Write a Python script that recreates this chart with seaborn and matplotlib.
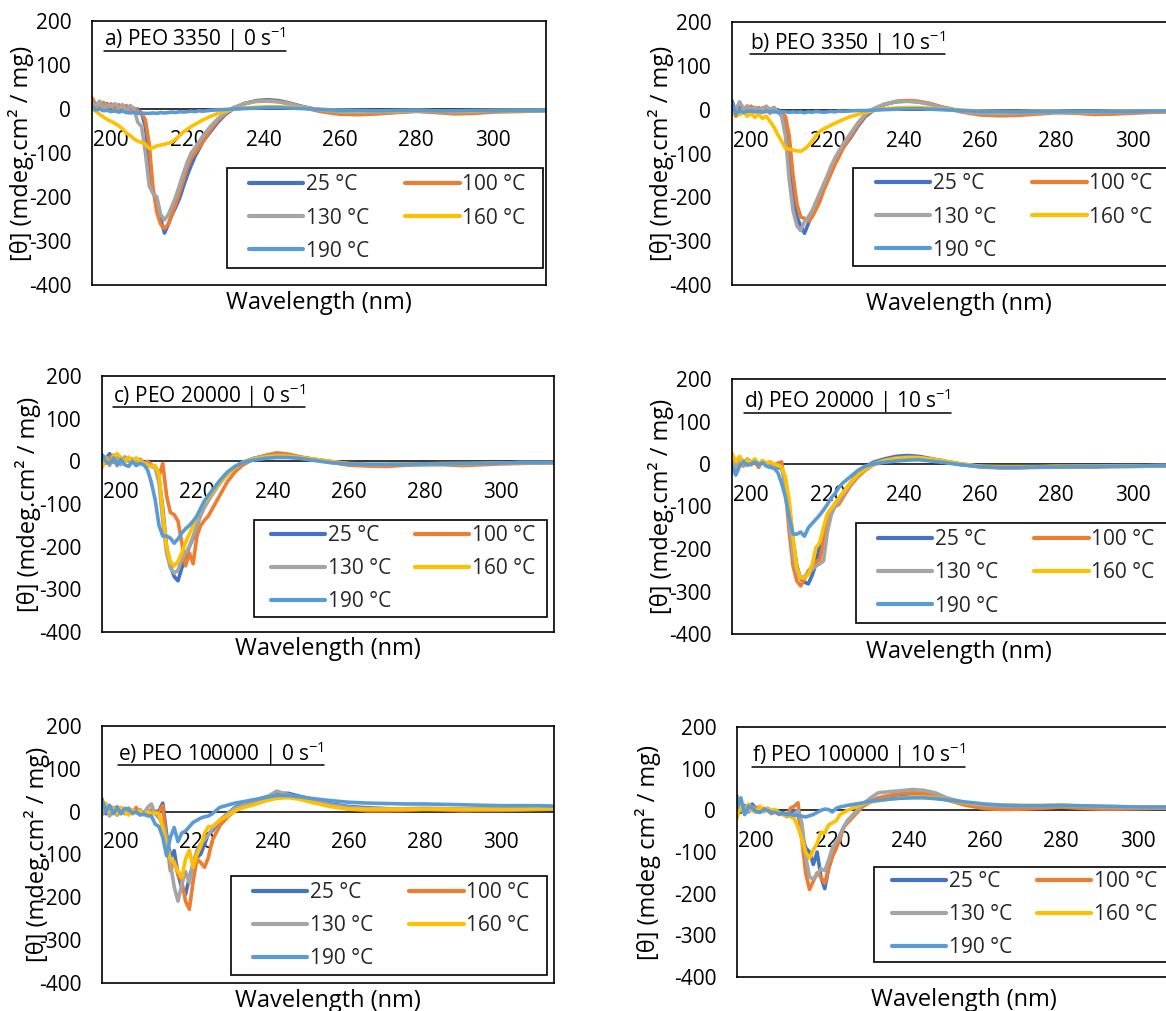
import matplotlib
matplotlib.use("Agg")
import matplotlib.pyplot as plt
import pandas as pd
import seaborn as sns
from matplotlib.lines import Line2D
from matplotlib.patches import Rectangle

# ---------------------------------------------------------------- data
# Wavelength grid (nm) shared by every spectrum
WAVELENGTH = (list(range(195, 225))
              + [226, 228, 230, 232, 235, 238, 241, 244, 247, 250]
              + [255, 260, 265, 270, 275, 280, 285, 290, 295, 300, 305, 310, 314])

TEMPS = ["25 °C", "100 °C", "130 °C", "160 °C", "190 °C"]
COLORS = ["#4472C4", "#ED7D31", "#A5A5A5", "#FFC000", "#5B9BD5"]
X_TICKS = [200, 220, 240, 260, 280, 300]
Y_TICKS = [-400, -300, -200, -100, 0, 100, 200]

# a) PEO 3350, 0 s-1
a_25 = [20, 8, 15, 5, 12, 2, 8, 0, 6, -2, 4, -3, 0, -10,
        -40, -120, -190, -205, -250, -282, -262, -240, -222, -202, -175, -150, -128, -108, -92, -75,
        -52, -30, -12, 0, 12, 19, 21, 19, 13, 6,
        -3, -8, -9, -8, -7, -5, -6, -7, -6, -5, -4, -4, -3]
a_100 = [25, 10, 5, 15, 0, 12, -5, 10, 0, 8, -8, 2, -5, -10,
         -25, -80, -180, -235, -262, -272, -262, -238, -215, -188, -160, -132, -112, -100, -88, -74,
         -48, -26, -10, 2, 13, 18, 19, 17, 12, 4,
         -6, -12, -13, -11, -8, -5, -8, -11, -10, -7, -6, -5, -4]
a_130 = [15, 5, 18, 0, 10, 5, 12, 2, 10, -5, 8, 0, -30, -40,
         -100, -175, -192, -200, -240, -252, -240, -220, -198, -172, -145, -120, -100, -88, -75, -62,
         -40, -22, -8, 3, 12, 17, 18, 16, 11, 5,
         -3, -7, -8, -7, -6, -5, -6, -7, -6, -5, -4, -4, -3]
a_160 = [0, -5, -12, -18, -24, -28, -33, -38, -45, -55, -60, -68, -73, -76,
         -80, -90, -88, -84, -82, -80, -78, -75, -68, -60, -52, -46, -40, -35, -30, -25,
         -17, -10, -5, -1, 2, 4, 5, 5, 4, 2,
         -1, -3, -4, -4, -4, -3, -4, -4, -4, -3, -3, -3, -3]
a_190 = [5, -2, 0, -4, -3, -6, -4, -7, -5, -8, -9, -8, -10, -9,
         -10, -10, -9, -10, -8, -9, -8, -7, -8, -6, -7, -6, -5, -6, -4, -5,
         -3, -2, -1, 0, 1, 2, 3, 3, 2, 1,
         -1, -3, -3, -4, -3, -3, -4, -4, -3, -4, -3, -3, -3]

# b) PEO 3350, 10 s-1
b_25 = [20, -5, 10, 0, 8, 2, 5, -2, 4, -3, 2, -5, 0, -5,
        -30, -110, -200, -245, -265, -282, -260, -238, -222, -205, -180, -160, -135, -118, -105, -88,
        -65, -38, -15, -2, 12, 18, 20, 18, 13, 6,
        -3, -8, -9, -8, -7, -5, -6, -7, -6, -5, -4, -4, -3]
b_100 = [5, -15, -5, 5, -3, 8, 0, 5, -5, 3, -8, 5, -5, -8,
         -15, -60, -150, -215, -245, -248, -255, -245, -228, -210, -185, -165, -145, -125, -108, -90,
         -62, -35, -12, 0, 12, 19, 21, 19, 14, 6,
         -5, -12, -14, -13, -10, -7, -8, -11, -10, -8, -6, -5, -4]
b_130 = [10, 0, 18, 2, 8, 0, 5, -2, 3, 8, 0, 5, -5, -15,
         -60, -160, -230, -265, -276, -255, -245, -230, -210, -190, -170, -150, -128, -110, -95, -80,
         -55, -30, -10, 2, 13, 18, 19, 17, 12, 5,
         -4, -8, -9, -8, -7, -6, -6, -7, -6, -5, -4, -4, -3]
b_160 = [-10, -5, -12, -5, -15, -8, -18, -10, -20, -15, -27, -40, -57, -72,
         -88, -90, -92, -94, -95, -90, -82, -72, -60, -50, -44, -40, -35, -31, -27, -23,
         -16, -11, -6, -2, 2, 4, 5, 5, 3, 1,
         -1, -3, -4, -4, -3, -3, -4, -4, -3, -3, -3, -3, -3]
b_190 = [15, -10, -3, -6, -4, -3, -5, -4, -6, -4, -5, -4, -6, -5,
         -5, -6, -5, -6, -5, -7, -5, -6, -4, -5, -6, -5, -4, -5, -3, -4,
         -3, -2, -2, -1, 0, 1, 2, 2, 1, 0,
         -2, -4, -4, -5, -4, -4, -4, -4, -4, -4, -3, -3, -3]

# c) PEO 20000, 0 s-1
c_25 = [15, 5, 18, 0, 12, -5, 8, 0, 5, -3, 2, -5, -8, -12,
        -14, -40, -110, -200, -245, -270, -280, -250, -225, -200, -180, -150, -125, -105, -90, -75,
        -50, -30, -14, -3, 7, 13, 15, 13, 9, 6,
        0, -6, -8, -8, -7, -7, -6, -6, -5, -4, -3, -3, -3]
c_100 = [5, -5, 10, -3, 8, 0, 10, 2, 5, -2, 5, -5, 0, -8,
         -12, -35, -5, -80, -120, -125, -140, -190, -245, -215, -240, -175, -150, -138, -128, -112,
         -80, -48, -25, -9, 6, 14, 20, 17, 11, 6,
         -2, -9, -11, -12, -9, -8, -8, -10, -8, -6, -5, -4, -3]
c_130 = [0, 10, -10, 15, 5, -8, 10, 0, 3, -5, 0, -3, -8, -10,
         -15, -50, -140, -215, -250, -262, -255, -230, -215, -200, -175, -150, -125, -108, -92, -78,
         -52, -30, -13, -2, 7, 12, 14, 13, 9, 5,
         -1, -6, -8, -8, -7, -7, -6, -6, -5, -4, -3, -3, -3]
c_160 = [-15, 5, -5, 12, 18, 8, 0, 10, -2, 8, 0, -5, -8, -12,
         -10, -30, -120, -200, -235, -245, -235, -215, -190, -170, -150, -128, -110, -96, -84, -72,
         -50, -30, -15, -3, 5, 10, 12, 12, 9, 6,
         0, -5, -7, -7, -6, -6, -5, -5, -5, -4, -3, -3, -3]
c_190 = [15, 0, -5, 8, -10, 5, -8, -12, 0, -10, -5, -8, -20, -50,
         -90, -150, -175, -175, -180, -192, -182, -168, -158, -150, -140, -128, -110, -92, -80, -68,
         -45, -25, -12, -3, 3, 7, 9, 9, 7, 3,
         -3, -6, -7, -7, -7, -6, -6, -5, -5, -4, -3, -3, -3]

# d) PEO 20000, 10 s-1
d_25 = [10, -5, 15, 5, 10, 2, 8, 0, 5, -2, 3, -5, -8, -10,
        -40, -100, -180, -240, -270, -278, -282, -262, -235, -190, -165, -130, -110, -95, -82, -70,
        -45, -22, -7, 4, 12, 18, 20, 18, 13, 8,
        0, -6, -8, -8, -7, -6, -6, -6, -5, -5, -4, -4, -4]
d_100 = [0, -15, 5, -5, 10, -2, 5, -8, 8, 0, 5, -3, 2, 5,
         -60, -160, -240, -275, -287, -270, -252, -240, -230, -225, -185, -135, -110, -100, -95, -80,
         -52, -30, -14, -2, 7, 12, 13, 13, 10, 6,
         -1, -7, -9, -9, -8, -7, -7, -7, -6, -6, -5, -4, -4]
d_130 = [5, -8, 10, 0, 12, 5, 8, -3, 6, 0, 4, -2, -5, -5,
         -45, -130, -215, -255, -268, -265, -258, -248, -240, -235, -228, -160, -120, -100, -88, -75,
         -48, -25, -10, 1, 9, 14, 16, 15, 11, 7,
         0, -6, -8, -8, -7, -7, -6, -6, -6, -5, -4, -4, -4]
d_160 = [25, 5, 18, 0, 10, 3, 12, 0, 8, 2, 5, 0, -3, -8,
         -30, -86, -173, -245, -268, -268, -260, -237, -197, -185, -149, -117, -105, -92, -80, -68,
         -45, -25, -11, -1, 8, 13, 15, 15, 12, 8,
         0, -5, -6, -6, -6, -5, -5, -5, -4, -4, -4, -3, -3]
d_190 = [-5, -26, -5, 5, -3, 0, 5, -2, 3, -5, -8, -10, -20, -45,
         -78, -125, -165, -165, -160, -170, -150, -140, -130, -120, -108, -95, -80, -70, -55, -45,
         -30, -15, -5, 0, 4, 7, 9, 10, 7, 4,
         -2, -6, -8, -8, -7, -7, -6, -6, -5, -5, -4, -4, -4]

# e) PEO 100000, 0 s-1
e_25 = [10, -5, 12, 0, 8, -3, 5, -5, 3, -2, 0, -5, 2, -3,
        0, 2, 20, -52, -107, -91, -146, -177, -193, -154, -123, -107, -99, -76, -52, -45,
        -21, -5, 10, 18, 26, 34, 42, 43, 36, 30,
        18, 12, 9, 7, 6, 6, 6, 6, 6, 6, 6, 7, 7]
e_100 = [0, 15, -5, 10, -8, 5, -3, 8, -5, 10, -5, 0, -8, 5,
         -5, 0, 14, -68, -138, -115, -146, -162, -209, -228, -162, -111, -119, -130, -107, -68,
         -33, -13, 2, 12, 22, 30, 36, 37, 32, 26,
         14, 6, 2, 2, 3, 5, 4, 2, 3, 3, 4, 5, 6]
e_130 = [-8, 10, -10, 5, 12, 0, -5, 8, 2, -3, 5, -5, 10, 18,
         -5, -15, -30, -60, -120, -175, -209, -170, -140, -166, -120, -90, -75, -65, -55, -40,
         -20, -5, 8, 15, 22, 32, 48, 40, 33, 28,
         16, 10, 7, 6, 7, 8, 7, 5, 5, 5, 5, 6, 6]
e_160 = [5, 20, 0, 8, -5, 10, 0, -8, 5, -3, 2, -8, 0, -5,
         -3, -5, -40, -80, -110, -120, -140, -154, -110, -90, -130, -100, -80, -50, -35, -35,
         -20, -10, 2, 9, 16, 25, 31, 33, 29, 22,
         12, 6, 6, 6, 6, 6, 6, 6, 6, 6, 6, 7, 7]
e_190 = [30, 0, 15, -5, 10, -5, 8, 5, -3, 0, -8, -5, -10, -10,
         -29, -35, -60, -103, -60, -37, -70, -50, -45, -35, -25, -20, -15, -12, -10, -5,
         10, 15, 20, 23, 28, 33, 38, 38, 35, 31,
         26, 22, 20, 19, 18, 18, 17, 16, 15, 14, 14, 14, 13]

# f) PEO 100000, 10 s-1
f_25 = [20, -5, 12, 0, 15, 2, 8, -3, 5, -5, 0, -8, -5, -10,
        -5, 0, -5, -60, -90, -100, -130, -100, -160, -188, -140, -110, -90, -60, -40, -25,
        -5, 10, 20, 28, 35, 38, 40, 39, 33, 27,
        15, 7, 5, 5, 6, 8, 7, 6, 5, 5, 5, 5, 5]
f_100 = [20, 5, -5, 10, 0, 8, -5, 5, 0, -8, -3, -10, -8, -15,
         5, 10, 18, -70, -150, -190, -170, -150, -160, -175, -140, -110, -90, -70, -40, -30,
         -10, 10, 22, 30, 36, 40, 42, 41, 34, 25,
         12, 4, 2, 3, 5, 8, 5, 3, 3, 4, 5, 5, 6]
f_130 = [35, 0, 10, -5, 8, 0, 5, -3, 3, -5, 0, -5, -10, -12,
         -15, -10, 0, -30, -110, -160, -165, -155, -140, -145, -120, -90, -75, -60, -40, -25,
         -5, 15, 30, 42, 45, 47, 50, 48, 42, 30,
         18, 12, 10, 10, 11, 12, 10, 8, 7, 6, 6, 6, 6]
f_160 = [-20, 20, -10, 15, 0, -5, 10, -3, 5, 0, 2, -5, -10, -12,
         -15, -20, -40, -70, -100, -115, -95, -80, -52, -55, -35, -30, -25, -10, -5, 0,
         8, 15, 20, 23, 27, 30, 32, 32, 30, 25,
         18, 14, 13, 12, 12, 12, 11, 10, 9, 8, 8, 8, 8]
f_190 = [5, 30, -10, 10, 5, -3, -5, 2, 0, -5, -5, -8, -8, -10,
         -10, -12, -12, -14, -16, -13, -10, -5, 0, 3, 2, -4, 5, 8, 10, 12,
         15, 18, 22, 24, 27, 29, 30, 30, 28, 25,
         20, 15, 12, 11, 11, 12, 11, 10, 9, 8, 8, 8, 8]

TITLES = ["a) PEO 3350 | 0 s$^{-1}$", "b) PEO 3350 | 10 s$^{-1}$",
          "c) PEO 20000 | 0 s$^{-1}$", "d) PEO 20000 | 10 s$^{-1}$",
          "e) PEO 100000 | 0 s$^{-1}$", "f) PEO 100000 | 10 s$^{-1}$"]
YLABELS = ["[θ] (mdeg.cm² / mg)"] * 5 + ["[θ] (mdeg cm² / mg)"]
SERIES = [
    [a_25, a_100, a_130, a_160, a_190],
    [b_25, b_100, b_130, b_160, b_190],
    [c_25, c_100, c_130, c_160, c_190],
    [d_25, d_100, d_130, d_160, d_190],
    [e_25, e_100, e_130, e_160, e_190],
    [f_25, f_100, f_130, f_160, f_190],
]

# ---------------------------------------------------------------- layout
W, H = 1166, 1011
# axes boxes in pixels: left, top, width, height
BOXES = [(92, 21, 454, 264), (732, 22, 454, 263),
         (102, 376, 452, 256), (732, 379, 454, 255),
         (102, 726, 452, 257), (737, 727, 454, 250)]
# title anchor (axes fraction x, baseline y)
TITLE_POS = [(0.026, 0.905), (0.040, 0.894), (0.024, 0.895),
             (0.026, 0.886), (0.035, 0.864), (0.033, 0.860)]
YLABEL_X = [-0.128, -0.128, -0.134, -0.128, -0.114, -0.167]
XLABEL_Y = [-0.022, -0.026, -0.020, -0.022, -0.022, -0.042]
# legend frame in pixels (left, top, right, bottom), inner left pad (px), column gap (em)
LEGEND_FRAME = [(227, 168, 543, 268), (853, 168, 1175, 266),
                (254, 520, 547, 617), (856, 523, 1175, 623),
                (231, 876, 547, 975), (874, 867, 1175, 962)]
LEGEND_PAD = [22, 23, 17, 22, 22, 18]
LEGEND_COLSP = [1.75, 1.75, 1.15, 1.75, 1.75, 1.2]

sns.set_style("white")
plt.rcParams["font.family"] = ["Open Sans", "DejaVu Sans"]
plt.rcParams["mathtext.fontset"] = "custom"
plt.rcParams["mathtext.rm"] = "Open Sans"
plt.rcParams["mathtext.it"] = "Open Sans:italic"
plt.rcParams["mathtext.bf"] = "Open Sans:bold"
plt.rcParams["axes.unicode_minus"] = False

FS = 15
LFS = 17
fig = plt.figure(figsize=(W / 100, H / 100), dpi=100)
fig.patch.set_facecolor("white")

title_texts = []
for i, (box, series) in enumerate(zip(BOXES, SERIES)):
    l, t, w, h = box
    ax = fig.add_axes([l / W, 1 - (t + h) / H, w / W, h / H])
    df = pd.DataFrame({
        "wl": WAVELENGTH * len(TEMPS),
        "theta": [v for s in series for v in s],
        "temp": [tp for tp in TEMPS for _ in WAVELENGTH],
    })
    ax.axhline(0, color="black", lw=1.1, zorder=1)
    sns.lineplot(data=df, x="wl", y="theta", hue="temp", hue_order=TEMPS,
                 palette=COLORS, lw=2.6, legend=False, ax=ax,
                 estimator=None, sort=False, zorder=2)
    ax.set_xlim(195, 314)
    ax.set_ylim(-400, 200)
    ax.set_yticks(Y_TICKS)
    ax.tick_params(axis="y", length=0, pad=15, labelsize=FS, colors="black")
    ax.tick_params(axis="x", bottom=False, labelbottom=False)
    for sp in ax.spines.values():
        sp.set_visible(True)
        sp.set_color("black")
        sp.set_linewidth(1.2)

    # wavelength tick labels sit under the zero line
    sec = ax.secondary_xaxis(0, transform=ax.transData)
    sec.set_xticks(X_TICKS)
    sec.tick_params(length=0, pad=15, labelsize=FS, colors="black")
    for sp in sec.spines.values():
        sp.set_visible(False)

    ax.set_xlabel("Wavelength (nm)", fontsize=LFS, color="black")
    ax.xaxis.set_label_coords(0.5, XLABEL_Y[i])
    ax.set_ylabel(YLABELS[i], fontsize=LFS, color="black")
    ax.yaxis.set_label_coords(YLABEL_X[i], 0.5)

    tx, ty = TITLE_POS[i]
    tt = ax.text(tx, ty, TITLES[i], transform=ax.transAxes, ha="left",
                 va="baseline", fontsize=FS, color="black")
    title_texts.append((ax, tt, tx, ty))

    # legend: white frame box with the two-column key inside
    fl, ft, fr, fb = LEGEND_FRAME[i]
    fx0, fx1 = (fl - l) / w, (fr - l) / w
    fy0, fy1 = (t + h - fb) / h, (t + h - ft) / h
    ax.add_patch(Rectangle((fx0, fy0), fx1 - fx0, fy1 - fy0,
                           transform=ax.transAxes, facecolor="white",
                           edgecolor="black", lw=1.2, zorder=4, clip_on=False))
    handles = [Line2D([], [], color=c, lw=3.0) for c in COLORS]
    order = [0, 2, 4, 1, 3]
    leg = ax.legend([handles[k] for k in order], [TEMPS[k] for k in order],
                    ncol=2, loc="center left",
                    bbox_to_anchor=((fl + LEGEND_PAD[i] - l) / w, (fy0 + fy1) / 2),
                    borderaxespad=0, borderpad=0, frameon=False,
                    fontsize=FS, handlelength=2.6, handletextpad=0.12,
                    labelspacing=0.58, columnspacing=LEGEND_COLSP[i])
    leg.set_zorder(6)

# underline each panel title
fig.canvas.draw()
renderer = fig.canvas.get_renderer()
for ax, tt, tx, ty in title_texts:
    bb = tt.get_window_extent(renderer)
    ybase = ax.transAxes.transform((tx, ty))[1]
    yu = ybase - 4.5
    fig.add_artist(Line2D([bb.x0 / W, bb.x1 / W], [yu / H, yu / H],
                          transform=fig.transFigure, color="black", lw=1.1))

fig.savefig("out.png", dpi=100, facecolor="white")
